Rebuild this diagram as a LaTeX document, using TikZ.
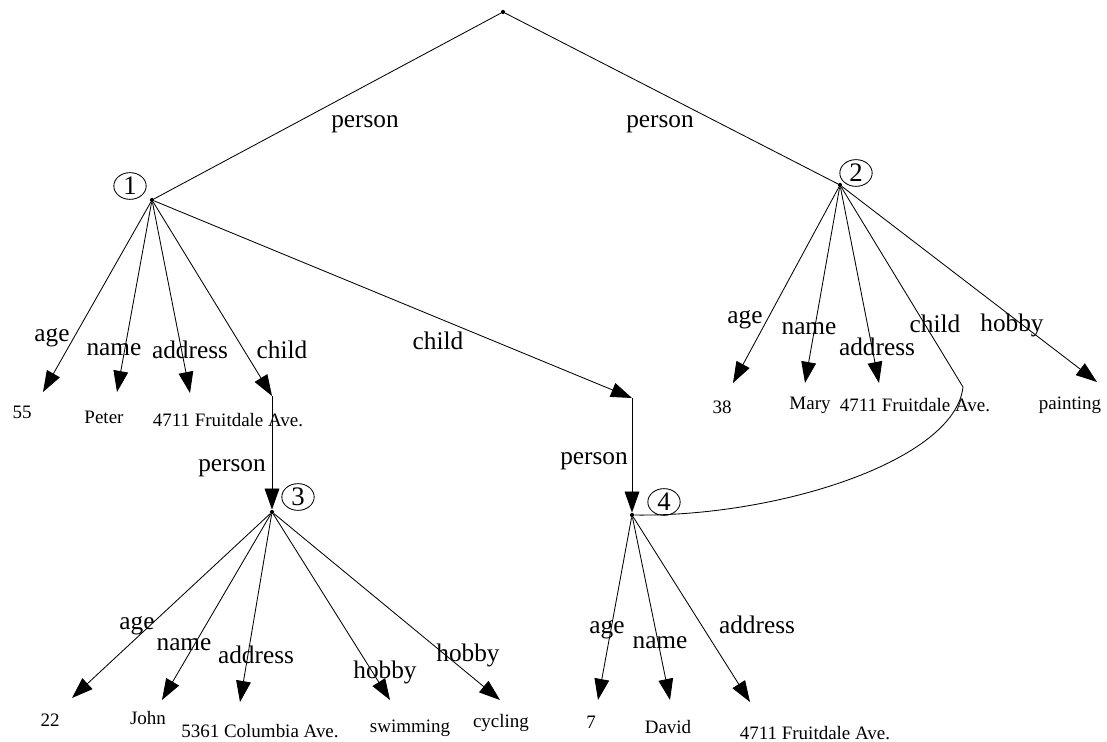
\documentclass[tikz,border=0pt]{standalone}
\usepackage{fontspec}
\setmainfont{Liberation Serif}
\usetikzlibrary{arrows.meta}
\usetikzlibrary{shapes.geometric}

\begin{document}
\begin{tikzpicture}[x=0.025cm,y=-0.025cm]

\tikzstyle{edge}=[line width=0.6pt]
\tikzstyle{arc}=[edge, -{Triangle[length=15pt,width=10.5pt]}]
\tikzstyle{lbl}=[inner sep=1pt, font=\fontsize{18}{20}\selectfont]
\tikzstyle{val}=[inner sep=1pt, font=\fontsize{13.5}{15}\selectfont]
\tikzstyle{oid}=[ellipse, draw, line width=0.6pt, inner sep=0pt, minimum width=23pt, minimum height=19pt, font=\fontsize{19}{20}\selectfont]
\tikzstyle{dot}=[circle, fill, inner sep=0pt, minimum size=3pt]

\useasboundingbox (0,0) rectangle (1107,742);

% objects
\node[dot] (root) at (503,12) {};
\node[dot] (p1) at (152,200) {};
\node[dot] (p2) at (840,185) {};
\node[dot] (p3) at (272,512) {};
\node[dot] (p4) at (632,515) {};
\node[oid] (o1) at (130,186) {1};
\node[oid] (o2) at (856,173) {2};
\node[oid] (o3) at (298,497) {3};
\node[oid] (o4) at (664,502) {4};

% top level
\draw[edge] (root) -- (p1);
\draw[edge] (root) -- (p2);
\node[lbl] (lp1) at (365,124) {person};
\node[lbl] (lp2) at (660,124) {person};

% object 1
\coordinate (t11) at (43,392);
\coordinate (t12) at (117,392);
\coordinate (t13) at (190,393);
\coordinate (c3) at (272,396);
\coordinate (c4) at (632,398);
\draw[arc] (p1) -- (t11);
\draw[arc] (p1) -- (t12);
\draw[arc] (p1) -- (t13);
\draw[arc] (p1) -- (c3);
\draw[arc] (p1) -- (c4);
\node[lbl] (l11) at (52,338) {age};
\node[lbl] (l12) at (114,350) {name};
\node[lbl] (l13) at (190,350) {address};
\node[lbl] (l14) at (282,350) {child};
\node[lbl] (l15) at (438,341) {child};
\node[val] (v11) at (22,412) {55};
\node[val] (v12) at (104,417) {Peter};
\node[val] (v13) at (228,420) {4711 Fruitdale Ave.};

% object 3
\draw[arc] (c3) -- (p3);
\node[lbl] (l30) at (232,468) {person};
\coordinate (t31) at (72,698);
\coordinate (t32) at (162,700);
\coordinate (t33) at (240,702);
\coordinate (t34) at (390,700);
\coordinate (t35) at (500,700);
\draw[arc] (p3) -- (t31);
\draw[arc] (p3) -- (t32);
\draw[arc] (p3) -- (t33);
\draw[arc] (p3) -- (t34);
\draw[arc] (p3) -- (t35);
\node[lbl] (l31) at (137,626) {age};
\node[lbl] (l32) at (184,645) {name};
\node[lbl] (l33) at (256,655) {address};
\node[lbl] (l34) at (385,672) {hobby};
\node[lbl] (l35) at (468,655) {hobby};
\node[val] (v31) at (50,720) {22};
\node[val] (v32) at (148,718) {John};
\node[val] (v33) at (260,731) {5361 Columbia Ave.};
\node[val] (v34) at (410,728) {swimming};
\node[val] (v35) at (501,723) {cycling};

% object 4
\draw[arc] (c4) -- (p4);
\node[lbl] (l40) at (594,461) {person};
\coordinate (t41) at (598,700);
\coordinate (t42) at (670,700);
\coordinate (t43) at (750,702);
\draw[arc] (p4) -- (t41);
\draw[arc] (p4) -- (t42);
\draw[arc] (p4) -- (t43);
\node[lbl] (l41) at (607,630) {age};
\node[lbl] (l42) at (660,643) {name};
\node[lbl] (l43) at (757,625) {address};
\node[val] (v41) at (591,722) {7};
\node[val] (v42) at (668,727) {David};
\node[val] (v43) at (815,733) {4711 Fruitdale Ave.};

% object 2
\coordinate (t21) at (733,383);
\coordinate (t22) at (805,383);
\coordinate (t23) at (879,383);
\coordinate (c24) at (963,387);
\coordinate (t25) at (1097,382);
\draw[arc] (p2) -- (t21);
\draw[arc] (p2) -- (t22);
\draw[arc] (p2) -- (t23);
\draw[edge] (p2) -- (c24) .. controls (955,460) and (780,517) .. (p4);
\draw[arc] (p2) -- (t25);
\node[lbl] (l21) at (745,320) {age};
\node[lbl] (l22) at (809,329) {name};
\node[lbl] (l23) at (877,347) {address};
\node[lbl] (l24) at (935,324) {child};
\node[lbl] (l25) at (1012,325) {hobby};
\node[val] (v21) at (722,407) {38};
\node[val] (v22) at (810,405) {Mary};
\node[val] (v23) at (915,405) {4711 Fruitdale Ave.};
\node[val] (v25) at (1070,405) {painting};

\end{tikzpicture}
\end{document}
